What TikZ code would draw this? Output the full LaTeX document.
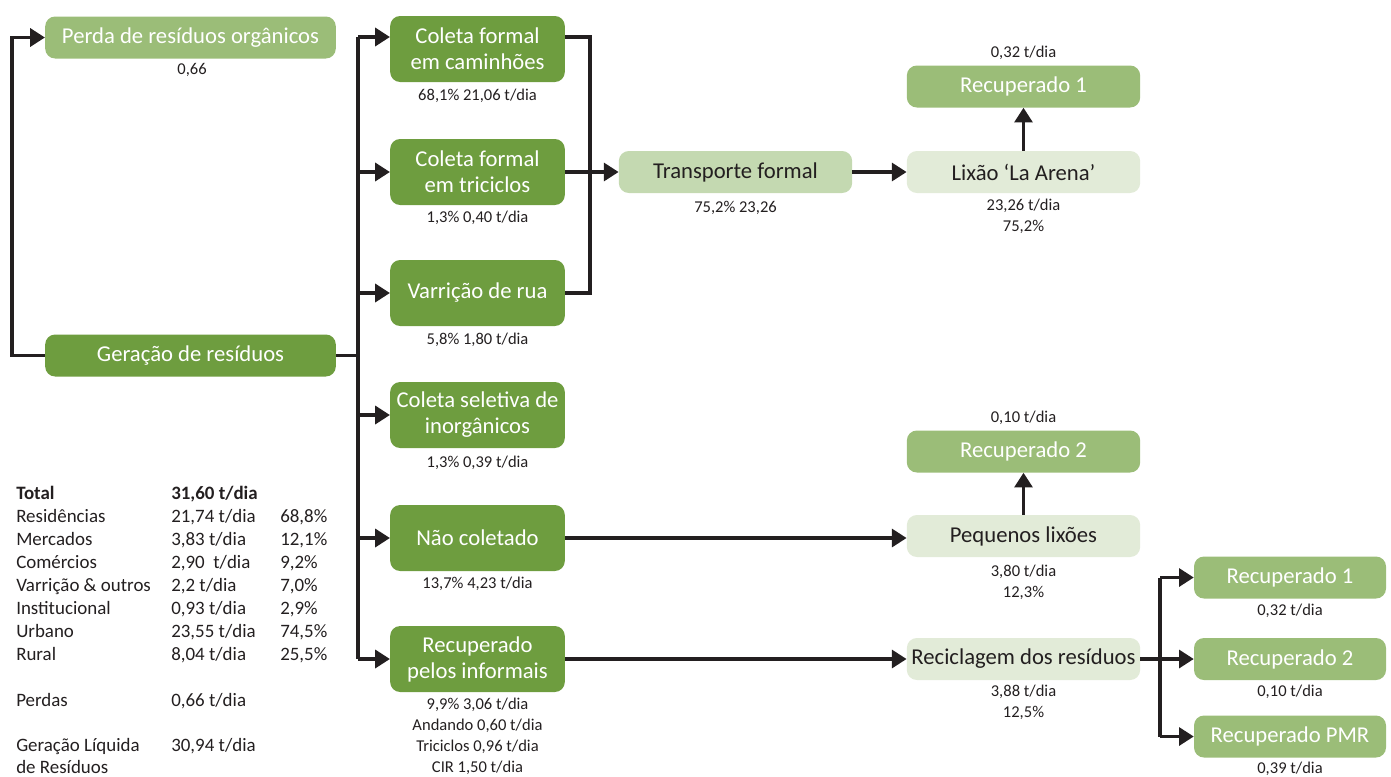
\documentclass[tikz,border=0pt]{standalone}
\usepackage{fontspec}
\setmainfont{Carlito}
\usetikzlibrary{arrows.meta,calc}
\definecolor{gdark}{HTML}{6E9D3F}
\definecolor{gmid}{HTML}{9BBD78}
\definecolor{glight}{HTML}{C4D9B1}
\definecolor{gpale}{HTML}{E2EBD8}
\definecolor{ink}{HTML}{231F20}
\tikzset{
  box/.style={rounded corners=7.5pt, inner sep=2pt, align=center, font=\fontsize{17}{19.5}\selectfont},
  darkbox/.style={box, fill=gdark, text=white, minimum width=131pt, minimum height=49.5pt},
  midbox/.style={box, fill=gmid, text=white, minimum height=31.5pt},
  lightbox/.style={box, fill=glight, text=ink, minimum height=31.5pt, minimum width=175pt},
  palebox/.style={box, fill=gpale, text=ink, minimum height=31.5pt, minimum width=175pt},
  lbl/.style={font=\fontsize{12.4}{15.6}\selectfont, text=ink, align=center, inner sep=0pt},
  tbl/.style={font=\fontsize{14.2}{17}\selectfont, text=ink, anchor=base west, inner sep=0pt},
  conn/.style={line width=2.3pt, draw=ink},
  arr/.style={conn, -{Triangle[length=11pt,width=13.5pt]}},
}
\begin{document}
\begin{tikzpicture}[x=0.75pt,y=-0.75pt]
\useasboundingbox (0,0) rectangle (1391,776);

% source and loss
\node[midbox, minimum width=218pt] (perda) at (190.5,37.5) {Perda de resíduos orgânicos};
\node[lbl] (perdaL) at (192,70) {0,66};
\node[box, fill=gdark, text=white, minimum width=218pt, minimum height=31.5pt] (ger) at (190.5,355.5) {Geração de resíduos};

% collection column
\node[darkbox] (cam) at (477.5,49) {Coleta formal\\em caminhões};
\node[lbl] (camL) at (477.5,96) {68,1\% 21,06 t/dia};
\node[darkbox] (tri) at (477.5,172) {Coleta formal\\em triciclos};
\node[lbl] (triL) at (477.5,218) {1,3\% 0,40 t/dia};
\node[darkbox] (var) at (477.5,293) {Varrição de rua};
\node[lbl] (varL) at (477.5,340) {5,8\% 1,80 t/dia};
\node[darkbox] (sel) at (477.5,415) {Coleta seletiva de\\inorgânicos};
\node[lbl] (selL) at (477.5,463) {1,3\% 0,39 t/dia};
\node[darkbox] (nao) at (477.5,538) {Não coletado};
\node[lbl] (naoL) at (477.5,584) {13,7\% 4,23 t/dia};
\node[darkbox] (inf) at (477.5,659) {Recuperado\\pelos informais};
\node[lbl, anchor=north] (infL) at (477.5,698) {9,9\% 3,06 t/dia\\Andando 0,60 t/dia\\Triciclos 0,96 t/dia\\CIR 1,50 t/dia};

% formal transport chain
\node[lightbox] (tra) at (735.5,172) {Transporte formal};
\node[lbl] (traL) at (735.5,208) {75,2\% 23,26};
\node[palebox] (lix) at (1023.5,172) {Lixão ‘La Arena’};
\node[lbl, anchor=north] (lixL) at (1023.5,199) {23,26 t/dia\\75,2\%};
\node[midbox, minimum width=175pt] (rec1) at (1023.5,86.5) {Recuperado 1};
\node[lbl] (rec1L) at (1023.5,53) {0,32 t/dia};

% small dumps
\node[palebox] (peq) at (1023.5,536) {Pequenos lixões};
\node[lbl, anchor=north] (peqL) at (1023.5,565) {3,80 t/dia\\12,3\%};
\node[midbox, minimum width=175pt] (rec2) at (1023.5,451.5) {Recuperado 2};
\node[lbl] (rec2L) at (1023.5,418) {0,10 t/dia};

% recycling
\node[palebox] (rcl) at (1023.5,659) {Reciclagem dos resíduos};
\node[lbl, anchor=north] (rclL) at (1023.5,685) {3,88 t/dia\\12,5\%};
\node[midbox, minimum width=144pt] (ra) at (1290,577.5) {Recuperado 1};
\node[lbl] (raL) at (1290,611) {0,32 t/dia};
\node[midbox, minimum width=144pt] (rb) at (1290,659) {Recuperado 2};
\node[lbl] (rbL) at (1290,692) {0,10 t/dia};
\node[midbox, minimum width=144pt] (rc) at (1290,736.5) {Recuperado PMR};
\node[lbl] (rcL) at (1290,769) {0,39 t/dia};

% summary table
\node[tbl] (t1a) at (16,499) {\bfseries Total};
\node[tbl] (t1b) at (171,499) {\bfseries 31,60 t/dia};
\node[tbl] (t2a) at (16,522) {Residências};
\node[tbl] (t2b) at (171,522) {21,74 t/dia};
\node[tbl] (t2c) at (280,522) {68,8\%};
\node[tbl] (t3a) at (16,545) {Mercados};
\node[tbl] (t3b) at (171,545) {3,83 t/dia};
\node[tbl] (t3c) at (280,545) {12,1\%};
\node[tbl] (t4a) at (16,568) {Comércios};
\node[tbl] (t4b) at (171,568) {2,90\ \ t/dia};
\node[tbl] (t4c) at (280,568) {9,2\%};
\node[tbl] (t5a) at (16,591) {Varrição \& outros};
\node[tbl] (t5b) at (171,591) {2,2 t/dia};
\node[tbl] (t5c) at (280,591) {7,0\%};
\node[tbl] (t6a) at (16,614) {Institucional};
\node[tbl] (t6b) at (171,614) {0,93 t/dia};
\node[tbl] (t6c) at (280,614) {2,9\%};
\node[tbl] (t7a) at (16,637) {Urbano};
\node[tbl] (t7b) at (171,637) {23,55 t/dia};
\node[tbl] (t7c) at (280,637) {74,5\%};
\node[tbl] (t8a) at (16,660) {Rural};
\node[tbl] (t8b) at (171,660) {8,04 t/dia};
\node[tbl] (t8c) at (280,660) {25,5\%};
\node[tbl] (t9a) at (16,706) {Perdas};
\node[tbl] (t9b) at (171,706) {0,66 t/dia};
\node[tbl] (t10a) at (16,751) {Geração Líquida};
\node[tbl] (t10b) at (171,751) {30,94 t/dia};
\node[tbl] (t11a) at (16,773) {de Resíduos};

% connectors
\coordinate (lossx) at (12,0);
\draw[arr] (ger.west) -- (ger.west -| lossx) |- (perda.west);

\coordinate (bt) at (358,37);
\coordinate (bb) at (358,659);
\draw[conn] (ger.east) -- (ger.east -| bt);
\draw[conn] (bt) -- (bb);
\draw[arr] (bt) -- (cam.west |- bt);
\draw[arr] (tri.west -| bt) -- (tri.west);
\draw[arr] (var.west -| bt) -- (var.west);
\draw[arr] (sel.west -| bt) -- (sel.west);
\draw[arr] (nao.west -| bt) -- (nao.west);
\draw[arr] (bb) -- (inf.west);

\coordinate (rx) at (590,37);
\draw[conn] (cam.east |- bt) -- (rx) -- (rx |- var.east) -- (var.east);
\draw[arr] (tri.east) -- (tra.west);
\draw[arr] (tra.east) -- (lix.west);
\draw[arr] (lix.north) -- (rec1.south);

\draw[arr] (nao.east) -- (peq.west |- nao.east);
\draw[arr] (peq.north) -- (rec2.south);

\draw[arr] (inf.east) -- (rcl.west);
\coordinate (rbt) at (1160,577.5);
\coordinate (rbb) at (1160,736.5);
\draw[conn] (rbt) -- (rbb);
\draw[arr] (rbt) -- (ra.west);
\draw[arr] (rcl.east) -- (rb.west);
\draw[arr] (rbb) -- (rc.west);
\end{tikzpicture}
\end{document}
